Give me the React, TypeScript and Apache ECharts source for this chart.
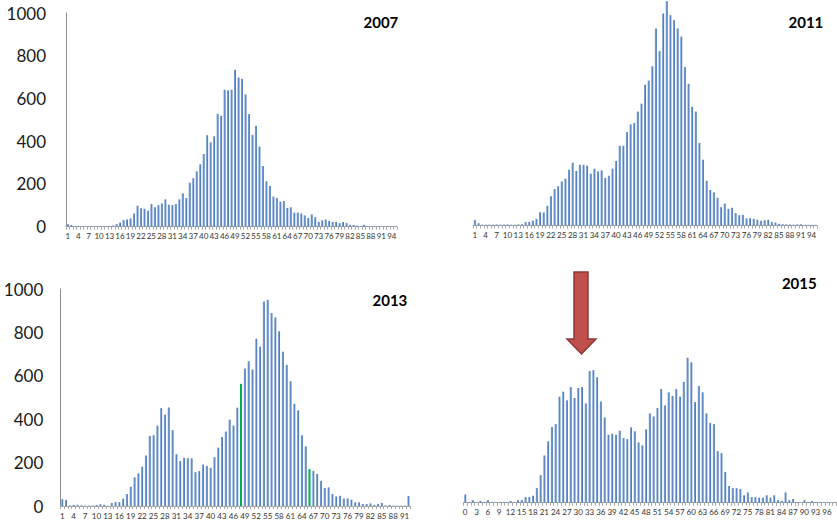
import React, { useEffect, useRef } from "react";
import * as echarts from "echarts";

const cats2007 = Array.from({ length: 95 }, (_, i) => String(i + 1));
const cats2011 = Array.from({ length: 95 }, (_, i) => String(i + 1));
const cats2013 = Array.from({ length: 92 }, (_, i) => String(i + 1));
const cats2015 = Array.from({ length: 99 }, (_, i) => String(i));

const values2007 = [12, 8, 3, 3, 2, 2, 2, 2, 2, 2, 2, 3, 3, 5, 12, 19, 31, 34, 39, 62, 98, 86, 84, 75, 106, 91, 101, 109, 128, 103, 101, 106, 128, 156, 134, 206, 227, 259, 292, 340, 428, 395, 423, 528, 519, 641, 638, 641, 734, 698, 692, 619, 527, 430, 472, 375, 284, 213, 191, 141, 134, 117, 120, 88, 91, 66, 66, 62, 53, 41, 58, 44, 23, 30, 34, 27, 22, 22, 17, 22, 17, 9, 8, 5, 3, 9, 3, 2, 2, 2, 2, 2, 2, 2, 2];

const values2011 = [25, 11, 4, 4, 4, 4, 5, 4, 4, 5, 4, 4, 5, 6, 16, 17, 23, 31, 62, 61, 92, 137, 170, 184, 206, 219, 261, 294, 255, 284, 284, 280, 242, 266, 253, 258, 223, 233, 266, 302, 373, 373, 437, 473, 480, 533, 570, 659, 678, 745, 922, 816, 992, 1050, 984, 961, 922, 884, 742, 663, 555, 533, 386, 308, 209, 166, 155, 130, 86, 103, 78, 83, 58, 48, 50, 33, 34, 31, 27, 22, 25, 27, 16, 14, 8, 6, 5, 5, 4, 5, 6, 3, 3, 3, 3];

const values2013 = [31, 28, 3, 5, 6, 3, 2, 2, 2, 5, 8, 6, 1, 14, 18, 18, 34, 55, 89, 132, 150, 181, 233, 323, 326, 370, 451, 421, 454, 350, 239, 207, 222, 220, 220, 156, 161, 191, 185, 176, 225, 269, 318, 343, 398, 370, 453, 563, 633, 667, 629, 771, 734, 942, 950, 889, 869, 805, 711, 650, 575, 471, 441, 326, 275, 170, 162, 148, 116, 83, 86, 55, 44, 47, 34, 35, 29, 17, 17, 9, 9, 12, 5, 9, 14, 3, 5, 2, 2, 2, 2, 46];
const highlight2013 = ["48", "66"];

const values2015 = [38, 3, 12, 2, 8, 3, 12, 3, 1, 3, 3, 3, 8, 3, 12, 12, 26, 26, 32, 67, 127, 217, 282, 348, 361, 487, 510, 470, 531, 481, 527, 531, 456, 605, 609, 576, 465, 392, 312, 317, 312, 331, 297, 292, 346, 328, 277, 263, 337, 410, 396, 435, 522, 447, 507, 490, 522, 487, 555, 666, 645, 462, 536, 507, 410, 366, 361, 237, 228, 141, 77, 67, 67, 63, 34, 47, 26, 26, 23, 23, 34, 23, 34, 12, 8, 47, 12, 17, 3, 1, 12, 3, 8, 3, 3, 1, 3, 1, 3];

const yTicks = [0, 200, 400, 600, 800, 1000];

const FONT = "Lato, 'Open Sans', sans-serif";

const barColor = new echarts.graphic.LinearGradient(0, 0, 1, 0, [
  { offset: 0, color: "#86aadb" },
  { offset: 1, color: "#3c6eb4" },
]);

function xAxisFor(gridIndex: number, cats: string[], margin: number) {
  return {
    type: "category",
    gridIndex,
    data: cats,
    boundaryGap: true,
    axisLine: { show: true, lineStyle: { color: "#a6a6a6", width: 1 } },
    axisTick: { show: true, interval: 0, length: 3, lineStyle: { color: "#a6a6a6" } },
    axisLabel: {
      interval: 2,
      fontSize: 8,
      color: "#333333",
      fontFamily: FONT,
      margin,
    },
  };
}

function yAxisFor(gridIndex: number, max: number, showLabels: boolean, labelMargin: number) {
  return {
    type: "value",
    gridIndex,
    min: 0,
    max,
    interval: 200,
    splitLine: { show: false },
    axisTick: { show: false },
    axisLine: { show: showLabels, lineStyle: { color: "#8c8c8c", width: 1 } },
    axisLabel: {
      show: showLabels,
      fontSize: 17,
      color: "#1a1a1a",
      fontFamily: FONT,
      margin: labelMargin,
      formatter: (v: number) => (yTicks.includes(v) ? String(v) : ""),
    },
  };
}

function barSeries(idx: number, cats: string[], values: number[], greens: string[] = []) {
  return {
    type: "bar",
    xAxisIndex: idx,
    yAxisIndex: idx,
    barWidth: 2,
    clip: false,
    data: values.map((v, i) =>
      greens.includes(cats[i])
        ? { value: v, itemStyle: { color: "#00b050" } }
        : { value: v }
    ),
    itemStyle: { color: barColor },
  };
}

export default function App() {
  const ref = useRef<HTMLDivElement>(null);

  useEffect(() => {
    if (!ref.current) return;
    const chart = echarts.init(ref.current, null, { renderer: "svg" });
    const titleStyle = (text: string, x: number, y: number) => ({
      type: "text",
      x,
      y,
      style: {
        text,
        textAlign: "right",
        textVerticalAlign: "middle",
        font: `bold 15px ${FONT}`,
        fill: "#000000",
      },
    });
    chart.setOption({
      animation: false,
      backgroundColor: "#ffffff",
      grid: [
        { left: 66, top: 13, width: 331, height: 213.7 },
        { left: 473, top: 1.1, width: 344, height: 224.4 },
        { left: 60.3, top: 289, width: 350, height: 217 },
        { left: 463.3, top: 285, width: 373, height: 217.7 },
      ],
      xAxis: [
        xAxisFor(0, cats2007, 5),
        xAxisFor(1, cats2011, 5),
        xAxisFor(2, cats2013, 6),
        xAxisFor(3, cats2015, 5),
      ],
      yAxis: [
        yAxisFor(0, 1000, true, 20),
        yAxisFor(1, 1050, false, 20),
        yAxisFor(2, 1000, true, 17),
        yAxisFor(3, 1000, false, 20),
      ],
      series: [
        barSeries(0, cats2007, values2007),
        barSeries(1, cats2011, values2011),
        barSeries(2, cats2013, values2013, highlight2013),
        barSeries(3, cats2015, values2015),
      ],
      graphic: [
        titleStyle("2007", 398.3, 21.7),
        titleStyle("2011", 823.3, 21.7),
        titleStyle("2013", 407.3, 300.3),
        titleStyle("2015", 816.7, 283.3),
        {
          type: "polygon",
          shape: {
            points: [
              [574, 272],
              [588, 272],
              [588, 339],
              [596, 339],
              [581.5, 354],
              [567, 339],
              [574, 339],
            ],
          },
          style: { fill: "#c0504d", stroke: "#8c3836", lineWidth: 1.5 },
        },
      ],
    });
    return () => chart.dispose();
  }, []);

  return (
    <div
      ref={ref}
      style={{ position: "absolute", left: 0, top: 0, width: 837, height: 525, background: "#fff" }}
    />
  );
}
